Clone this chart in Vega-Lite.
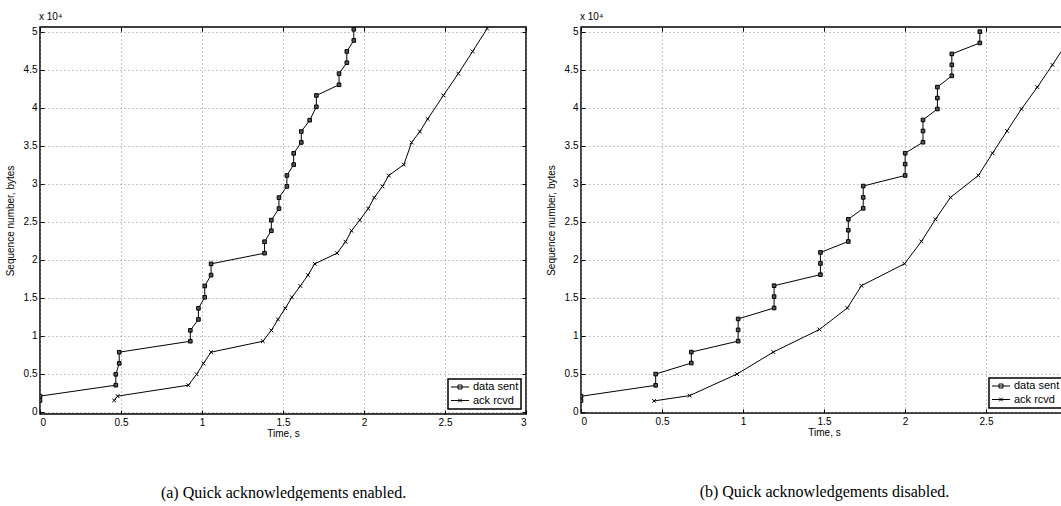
{
  "$schema": "https://vega.github.io/schema/vega-lite/v6.json",
  "description": "TCP sequence trace with quick acknowledgements enabled and disabled",
  "padding": {"left": 4, "top": 10, "right": 0, "bottom": 0},
  "background": "white",
  "config": {
    "font": "Liberation Sans",
    "view": {"stroke": "black", "strokeWidth": 1.5},
    "axis": {
      "labelFont": "Liberation Sans", "labelFontSize": 10, "labelColor": "black",
      "titleFont": "Liberation Sans", "titleFontSize": 10, "titleFontWeight": "normal", "titleColor": "black",
      "domain": false, "tickColor": "black", "tickSize": -4, "labelPadding": 7,
      "gridColor": "#8a8a8a", "gridDash": [1, 3], "gridWidth": 1
    },
    "title": {"font": "Liberation Sans", "fontSize": 10, "fontWeight": "normal", "color": "black"},
    "legend": {
      "orient": "bottom-right", "offset": 5, "strokeColor": "black", "strokeWidth": 1.5,
      "fillColor": "white", "padding": 2, "cornerRadius": 0,
      "labelFont": "Liberation Sans", "labelFontSize": 11, "labelColor": "black",
      "symbolSize": 330, "symbolOpacity": 1, "symbolStrokeWidth": 1,
      "symbolStrokeColor": "black", "symbolFillColor": "#333",
      "clipHeight": 12, "rowPadding": 1.5, "labelOffset": 3
    }
  },
  "datasets": {
    "trace": [
      {"panel": "a", "series": "data sent", "time": 0, "seq": 1480},
      {"panel": "a", "series": "data sent", "time": 0, "seq": 2050},
      {"panel": "a", "series": "data sent", "time": 0.468, "seq": 3490},
      {"panel": "a", "series": "data sent", "time": 0.468, "seq": 4920},
      {"panel": "a", "series": "data sent", "time": 0.489, "seq": 6360},
      {"panel": "a", "series": "data sent", "time": 0.489, "seq": 7830},
      {"panel": "a", "series": "data sent", "time": 0.928, "seq": 9270},
      {"panel": "a", "series": "data sent", "time": 0.928, "seq": 10700},
      {"panel": "a", "series": "data sent", "time": 0.978, "seq": 12140},
      {"panel": "a", "series": "data sent", "time": 0.978, "seq": 13600},
      {"panel": "a", "series": "data sent", "time": 1.017, "seq": 15050},
      {"panel": "a", "series": "data sent", "time": 1.017, "seq": 16540},
      {"panel": "a", "series": "data sent", "time": 1.056, "seq": 17970},
      {"panel": "a", "series": "data sent", "time": 1.056, "seq": 19450},
      {"panel": "a", "series": "data sent", "time": 1.386, "seq": 20850},
      {"panel": "a", "series": "data sent", "time": 1.386, "seq": 22360},
      {"panel": "a", "series": "data sent", "time": 1.428, "seq": 23800},
      {"panel": "a", "series": "data sent", "time": 1.428, "seq": 25200},
      {"panel": "a", "series": "data sent", "time": 1.475, "seq": 26720},
      {"panel": "a", "series": "data sent", "time": 1.475, "seq": 28160},
      {"panel": "a", "series": "data sent", "time": 1.524, "seq": 29630},
      {"panel": "a", "series": "data sent", "time": 1.524, "seq": 31070},
      {"panel": "a", "series": "data sent", "time": 1.566, "seq": 32500},
      {"panel": "a", "series": "data sent", "time": 1.566, "seq": 33980},
      {"panel": "a", "series": "data sent", "time": 1.613, "seq": 35420},
      {"panel": "a", "series": "data sent", "time": 1.613, "seq": 36850},
      {"panel": "a", "series": "data sent", "time": 1.665, "seq": 38340},
      {"panel": "a", "series": "data sent", "time": 1.706, "seq": 40100},
      {"panel": "a", "series": "data sent", "time": 1.706, "seq": 41600},
      {"panel": "a", "series": "data sent", "time": 1.846, "seq": 43000},
      {"panel": "a", "series": "data sent", "time": 1.846, "seq": 44470},
      {"panel": "a", "series": "data sent", "time": 1.894, "seq": 45900},
      {"panel": "a", "series": "data sent", "time": 1.894, "seq": 47390},
      {"panel": "a", "series": "data sent", "time": 1.937, "seq": 48830},
      {"panel": "a", "series": "data sent", "time": 1.937, "seq": 50300},
      {"panel": "a", "series": "ack rcvd", "time": 0.458, "seq": 1480},
      {"panel": "a", "series": "ack rcvd", "time": 0.479, "seq": 2050},
      {"panel": "a", "series": "ack rcvd", "time": 0.916, "seq": 3490},
      {"panel": "a", "series": "ack rcvd", "time": 0.967, "seq": 4920},
      {"panel": "a", "series": "ack rcvd", "time": 1.009, "seq": 6360},
      {"panel": "a", "series": "ack rcvd", "time": 1.056, "seq": 7830},
      {"panel": "a", "series": "ack rcvd", "time": 1.376, "seq": 9270},
      {"panel": "a", "series": "ack rcvd", "time": 1.428, "seq": 10700},
      {"panel": "a", "series": "ack rcvd", "time": 1.469, "seq": 12140},
      {"panel": "a", "series": "ack rcvd", "time": 1.514, "seq": 13600},
      {"panel": "a", "series": "ack rcvd", "time": 1.555, "seq": 15050},
      {"panel": "a", "series": "ack rcvd", "time": 1.607, "seq": 16540},
      {"panel": "a", "series": "ack rcvd", "time": 1.654, "seq": 17970},
      {"panel": "a", "series": "ack rcvd", "time": 1.696, "seq": 19450},
      {"panel": "a", "series": "ack rcvd", "time": 1.834, "seq": 20850},
      {"panel": "a", "series": "ack rcvd", "time": 1.886, "seq": 22360},
      {"panel": "a", "series": "ack rcvd", "time": 1.923, "seq": 23800},
      {"panel": "a", "series": "ack rcvd", "time": 1.974, "seq": 25200},
      {"panel": "a", "series": "ack rcvd", "time": 2.026, "seq": 26720},
      {"panel": "a", "series": "ack rcvd", "time": 2.063, "seq": 28160},
      {"panel": "a", "series": "ack rcvd", "time": 2.114, "seq": 29630},
      {"panel": "a", "series": "ack rcvd", "time": 2.153, "seq": 31070},
      {"panel": "a", "series": "ack rcvd", "time": 2.246, "seq": 32500},
      {"panel": "a", "series": "ack rcvd", "time": 2.294, "seq": 35420},
      {"panel": "a", "series": "ack rcvd", "time": 2.345, "seq": 36850},
      {"panel": "a", "series": "ack rcvd", "time": 2.393, "seq": 38500},
      {"panel": "a", "series": "ack rcvd", "time": 2.49, "seq": 41600},
      {"panel": "a", "series": "ack rcvd", "time": 2.582, "seq": 44470},
      {"panel": "a", "series": "ack rcvd", "time": 2.671, "seq": 47390},
      {"panel": "a", "series": "ack rcvd", "time": 2.76, "seq": 50400},
      {"panel": "b", "series": "data sent", "time": 0, "seq": 1480},
      {"panel": "b", "series": "data sent", "time": 0, "seq": 2050},
      {"panel": "b", "series": "data sent", "time": 0.461, "seq": 3490},
      {"panel": "b", "series": "data sent", "time": 0.461, "seq": 4970},
      {"panel": "b", "series": "data sent", "time": 0.681, "seq": 6420},
      {"panel": "b", "series": "data sent", "time": 0.681, "seq": 7860},
      {"panel": "b", "series": "data sent", "time": 0.97, "seq": 9300},
      {"panel": "b", "series": "data sent", "time": 0.97, "seq": 10780},
      {"panel": "b", "series": "data sent", "time": 0.97, "seq": 12220},
      {"panel": "b", "series": "data sent", "time": 1.192, "seq": 13660},
      {"panel": "b", "series": "data sent", "time": 1.192, "seq": 15150},
      {"panel": "b", "series": "data sent", "time": 1.192, "seq": 16590},
      {"panel": "b", "series": "data sent", "time": 1.478, "seq": 18040},
      {"panel": "b", "series": "data sent", "time": 1.478, "seq": 19510},
      {"panel": "b", "series": "data sent", "time": 1.478, "seq": 20960},
      {"panel": "b", "series": "data sent", "time": 1.65, "seq": 22400},
      {"panel": "b", "series": "data sent", "time": 1.65, "seq": 23880},
      {"panel": "b", "series": "data sent", "time": 1.65, "seq": 25320},
      {"panel": "b", "series": "data sent", "time": 1.742, "seq": 26760},
      {"panel": "b", "series": "data sent", "time": 1.742, "seq": 28200},
      {"panel": "b", "series": "data sent", "time": 1.742, "seq": 29690},
      {"panel": "b", "series": "data sent", "time": 2.001, "seq": 31080},
      {"panel": "b", "series": "data sent", "time": 2.001, "seq": 32570},
      {"panel": "b", "series": "data sent", "time": 2.001, "seq": 34010},
      {"panel": "b", "series": "data sent", "time": 2.111, "seq": 35450},
      {"panel": "b", "series": "data sent", "time": 2.111, "seq": 36930},
      {"panel": "b", "series": "data sent", "time": 2.111, "seq": 38380},
      {"panel": "b", "series": "data sent", "time": 2.2, "seq": 39820},
      {"panel": "b", "series": "data sent", "time": 2.2, "seq": 41260},
      {"panel": "b", "series": "data sent", "time": 2.2, "seq": 42700},
      {"panel": "b", "series": "data sent", "time": 2.289, "seq": 44180},
      {"panel": "b", "series": "data sent", "time": 2.289, "seq": 45620},
      {"panel": "b", "series": "data sent", "time": 2.289, "seq": 47060},
      {"panel": "b", "series": "data sent", "time": 2.462, "seq": 48500},
      {"panel": "b", "series": "data sent", "time": 2.462, "seq": 49990},
      {"panel": "b", "series": "ack rcvd", "time": 0.451, "seq": 1440},
      {"panel": "b", "series": "ack rcvd", "time": 0.671, "seq": 2140},
      {"panel": "b", "series": "ack rcvd", "time": 0.963, "seq": 4970},
      {"panel": "b", "series": "ack rcvd", "time": 1.187, "seq": 7860},
      {"panel": "b", "series": "ack rcvd", "time": 1.472, "seq": 10830},
      {"panel": "b", "series": "ack rcvd", "time": 1.644, "seq": 13660},
      {"panel": "b", "series": "ack rcvd", "time": 1.731, "seq": 16590},
      {"panel": "b", "series": "ack rcvd", "time": 1.997, "seq": 19470},
      {"panel": "b", "series": "ack rcvd", "time": 2.101, "seq": 22400},
      {"panel": "b", "series": "ack rcvd", "time": 2.188, "seq": 25320},
      {"panel": "b", "series": "ack rcvd", "time": 2.281, "seq": 28200},
      {"panel": "b", "series": "ack rcvd", "time": 2.453, "seq": 31080},
      {"panel": "b", "series": "ack rcvd", "time": 2.54, "seq": 34010},
      {"panel": "b", "series": "ack rcvd", "time": 2.63, "seq": 36930},
      {"panel": "b", "series": "ack rcvd", "time": 2.719, "seq": 39820},
      {"panel": "b", "series": "ack rcvd", "time": 2.817, "seq": 42700},
      {"panel": "b", "series": "ack rcvd", "time": 2.91, "seq": 45620},
      {"panel": "b", "series": "ack rcvd", "time": 3.0, "seq": 48500}
    ]
  },
  "spacing": 17,
  "hconcat": [
    {
      "width": 486,
      "height": 387,
      "data": {"name": "trace"},
      "transform": [{"filter": "datum.panel === 'a'"}],
      "title": {"text": "x 10⁴", "anchor": "start", "frame": "group", "offset": 5, "dx": -1},
      "resolve": {"axis": {"x": "independent", "y": "independent"}},
      "layer": [
        {
          "transform": [{"filter": "datum.series === 'ack rcvd'"}],
          "mark": {"type": "line", "color": "black", "strokeWidth": 1, "clip": true},
          "encoding": {
            "x": {"field": "time", "type": "quantitative", "scale": {"domain": [0, 3], "nice": false, "zero": false},
              "axis": {"title": "Time, s", "values": [0, 0.5, 1, 1.5, 2, 2.5, 3], "format": "~g", "grid": true, "titlePadding": 1}},
            "y": {"field": "seq", "type": "quantitative", "scale": {"domain": [-300, 50600], "nice": false, "zero": false},
              "axis": {"title": "Sequence number, bytes", "values": [0, 5000, 10000, 15000, 20000, 25000, 30000, 35000, 40000, 45000, 50000],
                "labelExpr": "format(datum.value / 10000, '~g')", "grid": true, "titlePadding": 8}},
            "order": {"field": "seq", "type": "quantitative"}
          }
        },
        {
          "transform": [{"filter": "datum.series === 'data sent'"}],
          "mark": {"type": "line", "color": "black", "strokeWidth": 1, "clip": true},
          "encoding": {
            "x": {"field": "time", "type": "quantitative",
              "axis": {"orient": "top", "title": null, "labels": false, "grid": false, "values": [0, 0.5, 1, 1.5, 2, 2.5, 3]}},
            "y": {"field": "seq", "type": "quantitative",
              "axis": {"orient": "right", "title": null, "labels": false, "grid": false, "values": [0, 5000, 10000, 15000, 20000, 25000, 30000, 35000, 40000, 45000, 50000]}},
            "order": {"field": "seq", "type": "quantitative"}
          }
        },
        {
          "transform": [{"filter": "datum.series === 'data sent'"}],
          "mark": {"type": "point", "shape": "square", "size": 13, "filled": false, "fill": "#555", "stroke": "black", "strokeWidth": 1, "opacity": 1, "clip": true},
          "encoding": {
            "x": {"field": "time", "type": "quantitative", "axis": null},
            "y": {"field": "seq", "type": "quantitative", "axis": null}
          }
        },
        {
          "transform": [{"filter": "datum.series === 'ack rcvd'"}],
          "mark": {"type": "point", "shape": "M-1,-1L1,1M1,-1L-1,1", "size": 14, "filled": false, "stroke": "black", "strokeWidth": 1, "opacity": 1, "clip": true},
          "encoding": {
            "x": {"field": "time", "type": "quantitative", "axis": null},
            "y": {"field": "seq", "type": "quantitative", "axis": null}
          }
        },
        {
          "mark": {"type": "point", "opacity": 0, "clip": true},
          "encoding": {
            "x": {"field": "time", "type": "quantitative",
              "axis": {"orient": "bottom", "title": "(a) Quick acknowledgements enabled.", "labels": false, "ticks": false, "grid": false,
                "titleFont": "Liberation Serif", "titleFontSize": 16, "titlePadding": 70}},
            "y": {"field": "seq", "type": "quantitative", "axis": null},
            "shape": {"field": "series", "type": "nominal",
              "scale": {"domain": ["data sent", "ack rcvd"], "range": ["M-1,0H1M-0.22,-0.22H0.22V0.22H-0.22Z", "M-1,0H1M-0.2,-0.2L0.2,0.2M0.2,-0.2L-0.2,0.2"]},
              "legend": {"title": null}}
          }
        }
      ]
    },
    {
      "width": 486,
      "height": 386,
      "data": {"name": "trace"},
      "transform": [{"filter": "datum.panel === 'b'"}],
      "title": {"text": "x 10⁴", "anchor": "start", "frame": "group", "offset": 5, "dx": -1},
      "resolve": {"axis": {"x": "independent", "y": "independent"}},
      "layer": [
        {
          "transform": [{"filter": "datum.series === 'ack rcvd'"}],
          "mark": {"type": "line", "color": "black", "strokeWidth": 1, "clip": true},
          "encoding": {
            "x": {"field": "time", "type": "quantitative", "scale": {"domain": [0, 3], "nice": false, "zero": false},
              "axis": {"title": "Time, s", "values": [0, 0.5, 1, 1.5, 2, 2.5, 3], "format": "~g", "grid": true, "titlePadding": 1}},
            "y": {"field": "seq", "type": "quantitative", "scale": {"domain": [-150, 50600], "nice": false, "zero": false},
              "axis": {"title": "Sequence number, bytes", "values": [0, 5000, 10000, 15000, 20000, 25000, 30000, 35000, 40000, 45000, 50000],
                "labelExpr": "format(datum.value / 10000, '~g')", "grid": true, "titlePadding": 8}},
            "order": {"field": "seq", "type": "quantitative"}
          }
        },
        {
          "transform": [{"filter": "datum.series === 'data sent'"}],
          "mark": {"type": "line", "color": "black", "strokeWidth": 1, "clip": true},
          "encoding": {
            "x": {"field": "time", "type": "quantitative",
              "axis": {"orient": "top", "title": null, "labels": false, "grid": false, "values": [0, 0.5, 1, 1.5, 2, 2.5, 3]}},
            "y": {"field": "seq", "type": "quantitative",
              "axis": {"orient": "right", "title": null, "labels": false, "grid": false, "values": [0, 5000, 10000, 15000, 20000, 25000, 30000, 35000, 40000, 45000, 50000]}},
            "order": {"field": "seq", "type": "quantitative"}
          }
        },
        {
          "transform": [{"filter": "datum.series === 'data sent'"}],
          "mark": {"type": "point", "shape": "square", "size": 13, "filled": false, "fill": "#555", "stroke": "black", "strokeWidth": 1, "opacity": 1, "clip": true},
          "encoding": {
            "x": {"field": "time", "type": "quantitative", "axis": null},
            "y": {"field": "seq", "type": "quantitative", "axis": null}
          }
        },
        {
          "transform": [{"filter": "datum.series === 'ack rcvd'"}],
          "mark": {"type": "point", "shape": "M-1,-1L1,1M1,-1L-1,1", "size": 14, "filled": false, "stroke": "black", "strokeWidth": 1, "opacity": 1, "clip": true},
          "encoding": {
            "x": {"field": "time", "type": "quantitative", "axis": null},
            "y": {"field": "seq", "type": "quantitative", "axis": null}
          }
        },
        {
          "mark": {"type": "point", "opacity": 0, "clip": true},
          "encoding": {
            "x": {"field": "time", "type": "quantitative",
              "axis": {"orient": "bottom", "title": "(b) Quick acknowledgements disabled.", "labels": false, "ticks": false, "grid": false,
                "titleFont": "Liberation Serif", "titleFontSize": 16, "titlePadding": 70}},
            "y": {"field": "seq", "type": "quantitative", "axis": null},
            "shape": {"field": "series", "type": "nominal",
              "scale": {"domain": ["data sent", "ack rcvd"], "range": ["M-1,0H1M-0.22,-0.22H0.22V0.22H-0.22Z", "M-1,0H1M-0.2,-0.2L0.2,0.2M0.2,-0.2L-0.2,0.2"]},
              "legend": {"title": null}}
          }
        }
      ]
    }
  ],
  "resolve": {"legend": {"shape": "independent"}}
}
